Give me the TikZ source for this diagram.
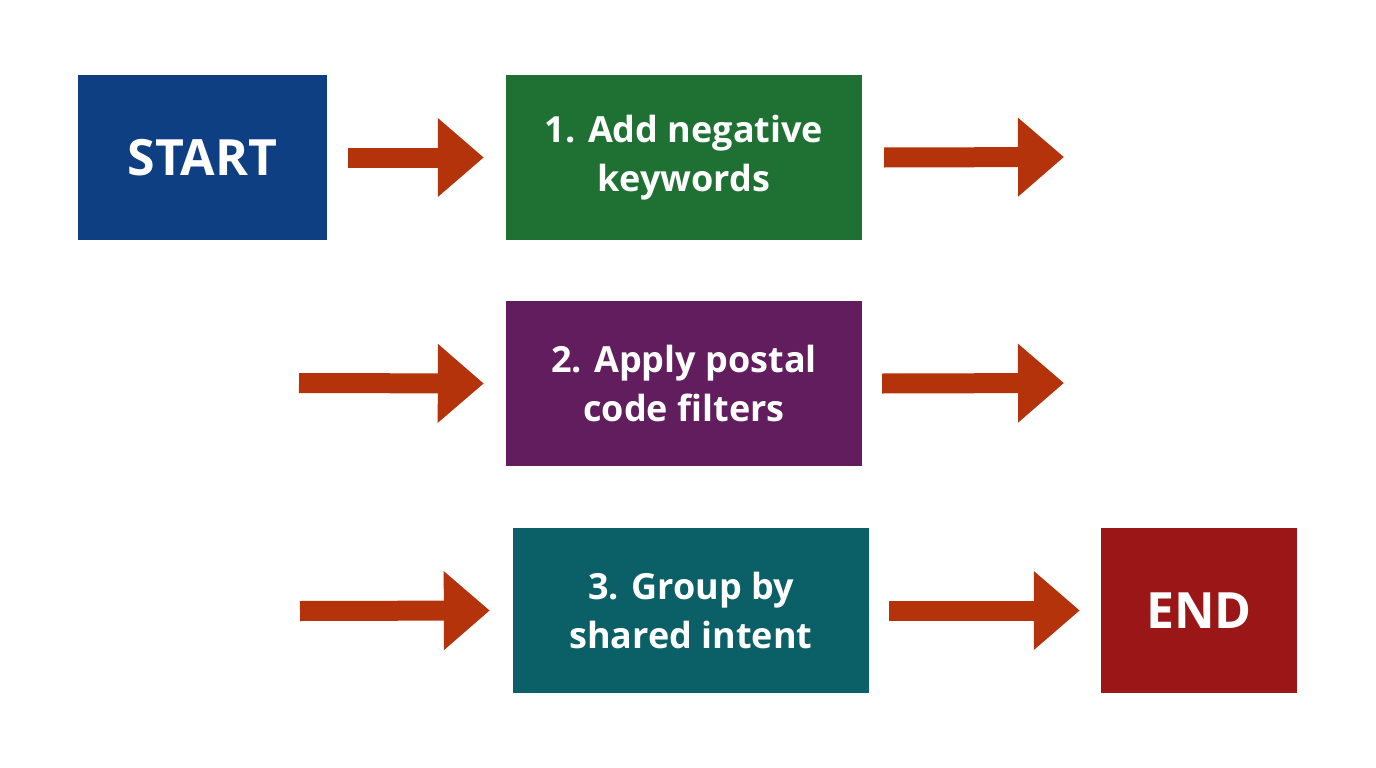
\documentclass[tikz,border=0pt]{standalone}
\usepackage{fontspec}
\setmainfont{Open Sans}
\usetikzlibrary{arrows.meta}
\definecolor{cblue}{HTML}{0D3F82}
\definecolor{cgreen}{HTML}{1E7033}
\definecolor{cpurple}{HTML}{621D5E}
\definecolor{cteal}{HTML}{0B5F66}
\definecolor{cred}{HTML}{9B1616}
\definecolor{carrow}{HTML}{B5330A}
\begin{document}
\begin{tikzpicture}[x=1pt,y=-1pt,
  box/.style={draw=none,minimum width=#1,minimum height=165pt,inner sep=0pt,text=white,font=\fontsize{36}{49}\selectfont\bfseries,align=center},
  arr/.style={draw=carrow,line width=20pt,-{Triangle[length=46pt,width=76pt]}}]
\useasboundingbox (0,0) rectangle (1376,768);
\fill[white] (0,0) rectangle (1376,768);
\node[box=249pt,fill=cblue,font=\fontsize{50}{56}\selectfont\bfseries] (s) at (202.5,157.5) {START};
\node[box=356pt,fill=cgreen] (b1) at (684,157.5) {1. Add negative\\keywords};
\node[box=356pt,fill=cpurple] (b2) at (684,383.5) {2. Apply postal\\code filters};
\node[box=356pt,fill=cteal] (b3) at (691,610.5) {3. Group by\\shared intent};
\node[box=196pt,fill=cred,font=\fontsize{50}{56}\selectfont\bfseries] (e) at (1199,610.5) {END};
\coordinate (o1) at (1064,157);
\coordinate (i2) at (299,383);
\coordinate (o2) at (1064,383);
\coordinate (i3) at (300,611);
\draw[arr] ([xshift=21pt]s.east) -- ([xshift=-22pt]b1.west);
\draw[arr] ([xshift=22pt]b1.east) -- (o1);
\draw[arr] (i2) -- ([xshift=-22pt]b2.west);
\draw[arr] ([xshift=20pt]b2.east) -- (o2);
\draw[arr] (i3) -- ([xshift=-23pt]b3.west);
\draw[arr] ([xshift=20pt]b3.east) -- ([xshift=-21pt]e.west);
\end{tikzpicture}
\end{document}
